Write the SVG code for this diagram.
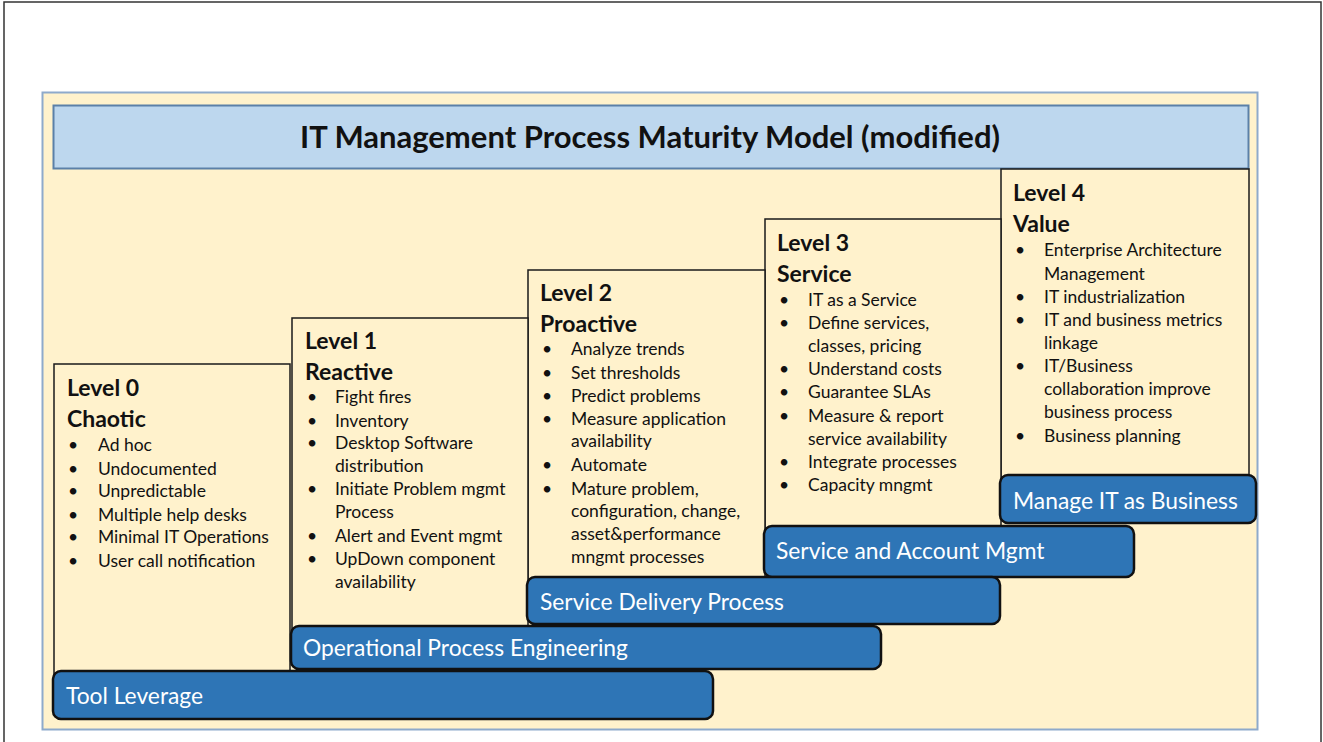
<svg xmlns="http://www.w3.org/2000/svg" width="1323" height="742" viewBox="0 0 1323 742">
<style>
text{font-family:Lato,"Open Sans","Liberation Sans",sans-serif;fill:#111}
.lvl{font-size:23px;font-weight:bold}
.it{font-size:17.5px}
.box{fill:#FFF2CC;stroke:#1a1a1a;stroke-width:1.5}
.bar{fill:#2E75B6;stroke:#111;stroke-width:2.5}
.bt{font-size:22.8px;fill:#fff}
</style>
<rect width="1323" height="742" fill="#fff"/>
<rect x="4" y="2" width="1317" height="750" fill="none" stroke="#333" stroke-width="1.5"/>
<rect x="42.5" y="92.5" width="1215" height="637" fill="#FFF2CC" stroke="#8EAACB" stroke-width="2"/>
<g id="title">
<rect x="53.5" y="105.5" width="1195" height="63" fill="#BDD7EE" stroke="#5B80A8" stroke-width="2"/>
<text x="650" y="148" text-anchor="middle" style="font-size:31px;font-weight:bold">IT Management Process Maturity Model (modified)</text>
</g>
<g id="level4">
<rect class="box" x="1001" y="169" width="248" height="320"/>
<text class="lvl" x="1013" y="201">Level 4</text>
<text class="lvl" x="1013" y="232">Value</text>
<g class="it">
<text x="1015" y="256">•</text><text x="1044" y="256">Enterprise Architecture</text>
<text x="1044" y="280">Management</text>
<text x="1015" y="303">•</text><text x="1044" y="303">IT industrialization</text>
<text x="1015" y="326">•</text><text x="1044" y="326">IT and business metrics</text>
<text x="1044" y="349">linkage</text>
<text x="1015" y="372">•</text><text x="1044" y="372">IT/Business</text>
<text x="1044" y="395">collaboration improve</text>
<text x="1044" y="418">business process</text>
<text x="1015" y="442">•</text><text x="1044" y="442">Business planning</text>
</g>
</g>
<g id="level3">
<rect class="box" x="765" y="219" width="236" height="320"/>
<text class="lvl" x="777" y="251">Level 3</text>
<text class="lvl" x="777" y="282">Service</text>
<g class="it">
<text x="779" y="306">•</text><text x="808" y="306">IT as a Service</text>
<text x="779" y="329">•</text><text x="808" y="329">Define services,</text>
<text x="808" y="352">classes, pricing</text>
<text x="779" y="375">•</text><text x="808" y="375">Understand costs</text>
<text x="779" y="398">•</text><text x="808" y="398">Guarantee SLAs</text>
<text x="779" y="422">•</text><text x="808" y="422">Measure &amp; report</text>
<text x="808" y="445">service availability</text>
<text x="779" y="468">•</text><text x="808" y="468">Integrate processes</text>
<text x="779" y="491">•</text><text x="808" y="491">Capacity mngmt</text>
</g>
</g>
<g id="level2">
<rect class="box" x="528" y="270" width="237" height="320"/>
<text class="lvl" x="540" y="301">Level 2</text>
<text class="lvl" x="540" y="332">Proactive</text>
<g class="it">
<text x="542" y="355">•</text><text x="571" y="355">Analyze trends</text>
<text x="542" y="379">•</text><text x="571" y="379">Set thresholds</text>
<text x="542" y="402">•</text><text x="571" y="402">Predict problems</text>
<text x="542" y="425">•</text><text x="571" y="425">Measure application</text>
<text x="571" y="447">availability</text>
<text x="542" y="471">•</text><text x="571" y="471">Automate</text>
<text x="542" y="495">•</text><text x="571" y="495">Mature problem,</text>
<text x="571" y="517">configuration, change,</text>
<text x="571" y="540">asset&amp;performance</text>
<text x="571" y="563">mngmt processes</text>
</g>
</g>
<g id="level1">
<rect class="box" x="292" y="318" width="236" height="320"/>
<text class="lvl" x="305" y="349">Level 1</text>
<text class="lvl" x="305" y="380">Reactive</text>
<g class="it">
<text x="307" y="403">•</text><text x="335" y="403">Fight fires</text>
<text x="307" y="427">•</text><text x="335" y="427">Inventory</text>
<text x="307" y="449">•</text><text x="335" y="449">Desktop Software</text>
<text x="335" y="472">distribution</text>
<text x="307" y="495">•</text><text x="335" y="495">Initiate Problem mgmt</text>
<text x="335" y="518">Process</text>
<text x="307" y="542">•</text><text x="335" y="542">Alert and Event mgmt</text>
<text x="307" y="565">•</text><text x="335" y="565">UpDown component</text>
<text x="335" y="588">availability</text>
</g>
</g>
<g id="level0">
<rect class="box" x="54" y="364" width="236" height="320"/>
<text class="lvl" x="67" y="396">Level 0</text>
<text class="lvl" x="67" y="427">Chaotic</text>
<g class="it">
<text x="68" y="451">•</text><text x="98" y="451">Ad hoc</text>
<text x="68" y="475">•</text><text x="98" y="475">Undocumented</text>
<text x="68" y="497">•</text><text x="98" y="497">Unpredictable</text>
<text x="68" y="521">•</text><text x="98" y="521">Multiple help desks</text>
<text x="68" y="543">•</text><text x="98" y="543">Minimal IT Operations</text>
<text x="68" y="567">•</text><text x="98" y="567">User call notification</text>
</g>
</g>
<g id="bar-manage">
<rect class="bar" x="1000" y="475" width="256" height="48" rx="8"/>
<text class="bt" x="1013" y="509">Manage IT as Business</text>
</g>
<g id="bar-service-account">
<rect class="bar" x="764" y="526" width="370" height="51" rx="8"/>
<text class="bt" x="776" y="559">Service and Account Mgmt</text>
</g>
<g id="bar-service-delivery">
<rect class="bar" x="527" y="577" width="473" height="47" rx="8"/>
<text class="bt" x="540" y="610">Service Delivery Process</text>
</g>
<g id="bar-operational">
<rect class="bar" x="291" y="626" width="590" height="43" rx="8"/>
<text class="bt" x="303" y="656">Operational Process Engineering</text>
</g>
<g id="bar-tool">
<rect class="bar" x="53" y="671" width="660" height="48" rx="8"/>
<text class="bt" x="66" y="704">Tool Leverage</text>
</g>
<g id="connectors"/>
</svg>
